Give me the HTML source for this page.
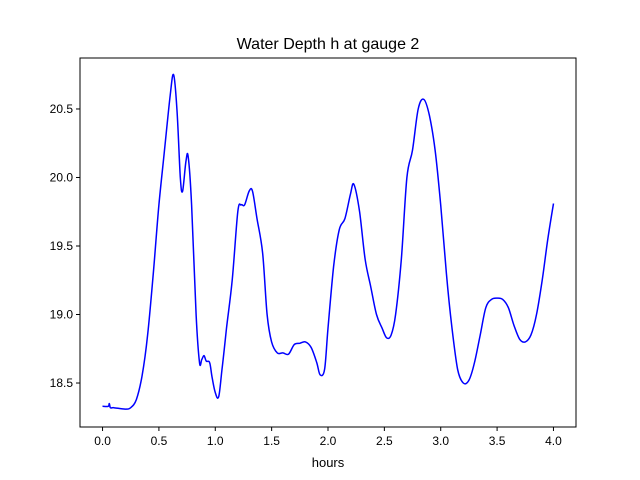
<!DOCTYPE html>
<html><head><meta charset="utf-8"><style>
body{margin:0;background:#fff}
svg{display:block;font-family:"Liberation Sans","DejaVu Sans",sans-serif}
</style></head><body>
<svg id="chart" width="640" height="480">
<rect width="640" height="480" fill="#fff"/>
<text x="328" y="49" font-size="16" text-anchor="middle">Water Depth h at gauge 2</text>
<g id="plot"></g>
<rect x="80" y="58" width="496" height="369" fill="none" stroke="#000" stroke-width="1"/>
<text x="328" y="467" font-size="13" text-anchor="middle">hours</text>
</svg>
<script>
const times=[0,0.05,0.06,0.07,0.1,0.2,0.25,0.3,0.35,0.4,0.45,0.5,0.55,0.6,0.63,0.66,0.69,0.71,0.74,0.76,0.79,0.83,0.86,0.88,0.9,0.92,0.95,0.97,1.0,1.03,1.06,1.1,1.15,1.2,1.23,1.26,1.3,1.33,1.37,1.42,1.46,1.5,1.55,1.6,1.65,1.7,1.75,1.8,1.85,1.9,1.93,1.97,2.0,2.05,2.1,2.15,2.2,2.23,2.28,2.33,2.38,2.43,2.48,2.52,2.56,2.6,2.65,2.7,2.75,2.8,2.85,2.9,2.95,3.0,3.05,3.1,3.15,3.2,3.25,3.3,3.35,3.4,3.45,3.5,3.55,3.6,3.65,3.7,3.75,3.8,3.85,3.9,3.95,4.0];
const depths=[18.33,18.33,18.35,18.32,18.32,18.31,18.32,18.38,18.55,18.85,19.3,19.8,20.2,20.6,20.75,20.5,20.0,19.9,20.12,20.15,19.8,19.0,18.65,18.67,18.7,18.66,18.65,18.55,18.43,18.4,18.6,18.9,19.25,19.75,19.8,19.8,19.9,19.9,19.7,19.45,19.0,18.8,18.72,18.72,18.71,18.78,18.79,18.8,18.76,18.65,18.56,18.6,18.9,19.35,19.62,19.7,19.88,19.95,19.75,19.4,19.2,19.0,18.9,18.83,18.85,19.0,19.4,20.0,20.2,20.5,20.57,20.45,20.2,19.8,19.3,18.9,18.6,18.5,18.52,18.65,18.85,19.05,19.11,19.12,19.11,19.05,18.92,18.82,18.8,18.85,19.0,19.25,19.55,19.81];
const xTicks=[0,0.5,1,1.5,2,2.5,3,3.5,4];
const xTickLabels=["0.0","0.5","1.0","1.5","2.0","2.5","3.0","3.5","4.0"];
const yTicks=[18.5,19,19.5,20,20.5];
const yTickLabels=["18.5","19.0","19.5","20.0","20.5"];
const X0=80,X1=576,Y0=58,Y1=427,xmin=-0.2,xmax=4.2,ymin=18.179,ymax=20.872;
const sx=v=>X0+(v-xmin)/(xmax-xmin)*(X1-X0);
const sy=v=>Y1-(v-ymin)/(ymax-ymin)*(Y1-Y0);
const NS="http://www.w3.org/2000/svg",g=document.getElementById('plot');
function mk(t,a){const e=document.createElementNS(NS,t);for(const k in a)e.setAttribute(k,a[k]);g.appendChild(e);return e;}
xTicks.forEach((v,i)=>{
 const l=mk('line',{x1:sx(v),x2:sx(v),y1:Y1,y2:Y1+4,stroke:'#000'});
 
 
 const t=mk('text',{x:sx(v),y:Y1+18,'font-size':12,'text-anchor':'middle'});
 t.textContent=xTickLabels[i];
 
 
});
yTicks.forEach((v,i)=>{
 const l=mk('line',{x1:X0-4,x2:X0,y1:sy(v),y2:sy(v),stroke:'#000'});
 
 
 const t=mk('text',{x:X0-7,y:sy(v)+4,'font-size':12,'text-anchor':'end'});
 t.textContent=yTickLabels[i];
 
 
});
const P=times.map((t,i)=>[sx(t),sy(depths[i])]);
let d='M'+P[0][0].toFixed(1)+','+P[0][1].toFixed(1);
for(let i=0;i<P.length-1;i++){
 const p0=P[Math.max(0,i-1)],p1=P[i],p2=P[i+1],p3=P[Math.min(P.length-1,i+2)];
 const c1x=p1[0]+(p2[0]-p0[0])/6,c1y=p1[1]+(p2[1]-p0[1])/6;
 const c2x=p2[0]-(p3[0]-p1[0])/6,c2y=p2[1]-(p3[1]-p1[1])/6;
 d+=' C'+c1x.toFixed(1)+','+c1y.toFixed(1)+' '+c2x.toFixed(1)+','+c2y.toFixed(1)+' '+p2[0].toFixed(1)+','+p2[1].toFixed(1);
}
const p=mk('path',{d:d,fill:'none',stroke:'#0000ff','stroke-width':1.5,'stroke-linejoin':'round'});


</script>
</body></html>
